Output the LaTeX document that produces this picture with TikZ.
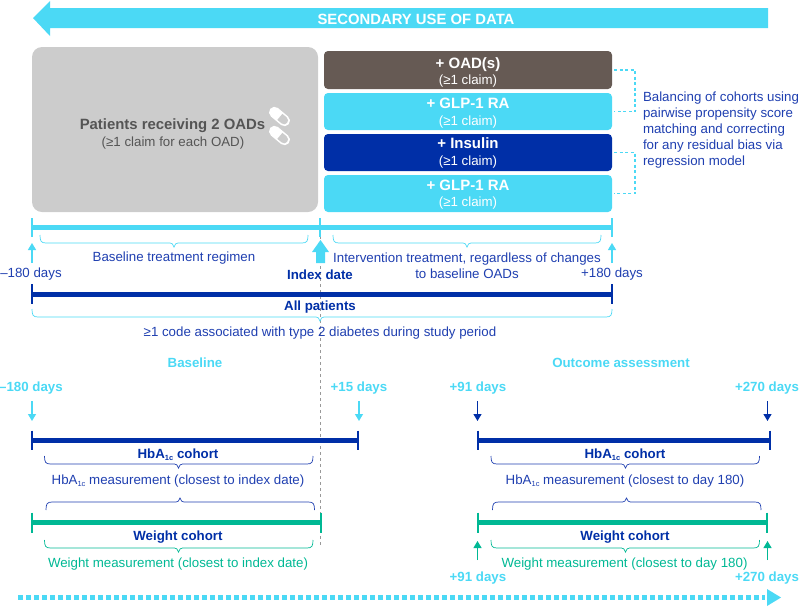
\documentclass[tikz,border=0pt]{standalone}
\usepackage{fontspec}
\setmainfont{Liberation Sans}
\usetikzlibrary{arrows.meta}
\definecolor{cy}{HTML}{4BD9F5}
\definecolor{nv}{HTML}{002FA7}
\definecolor{tb}{HTML}{1F3FB0}
\definecolor{br}{HTML}{665A54}
\definecolor{gb}{HTML}{CCCCCC}
\definecolor{gt}{HTML}{555555}
\definecolor{gn}{HTML}{00B894}
\newcommand{\subc}{\raisebox{-2.5pt}{\fontsize{7.5}{7.5}\selectfont 1c}}
% brace: x1, x2, tip x, end y, direction (+1 down, -1 up), colour
\newcommand{\bracefig}[6]{%
 \draw[#6,line width=.7pt] (#1,#4) .. controls (#1,{#4+#5*6}) and (#1+1,{#4+#5*8}) .. ({#1+6},{#4+#5*8})
   -- ({#3-4},{#4+#5*8}) .. controls ({#3-2},{#4+#5*8}) and ({#3-1},{#4+#5*9}) .. (#3,{#4+#5*12})
   .. controls ({#3+1},{#4+#5*9}) and ({#3+2},{#4+#5*8}) .. ({#3+4},{#4+#5*8})
   -- ({#2-6},{#4+#5*8}) .. controls ({#2-1},{#4+#5*8}) and (#2,{#4+#5*6}) .. (#2,#4);}
\tikzset{
 every node/.style={inner sep=0pt,outer sep=0pt,font=\fontsize{13.3}{16}\selectfont},
 txt/.style={text=tb,align=center},
 bold/.style={text=nv,font=\fontsize{13.3}{16}\selectfont\bfseries,align=center},
 cybold/.style={text=cy,font=\fontsize{13.3}{16}\selectfont\bfseries},
 treat/.style={rounded corners=4pt,minimum width=288pt,anchor=north west},
 treatlab/.style={text=white,align=center},
 bar/.style={line width=5pt},
 tick/.style={line width=2pt},
 thin arrow/.style={line width=1.2pt,-{Triangle[width=8pt,length=7pt]}},
 bracket/.style={cy,line width=1.4pt,dash pattern=on 3pt off 2.5pt},
}
\newcommand{\treatlabel}[1]{{\fontsize{15}{16}\selectfont\bfseries #1}\\[0.3pt]{\fontsize{13.3}{14}\selectfont (≥1 claim)}}
\begin{document}
\begin{tikzpicture}[x=1pt,y=-1pt]
\useasboundingbox (0,0) rectangle (799,606);
% top arrow
\fill[cy] (768,8) -- (50,8) -- (50,1) -- (33,18) -- (50,36) -- (50,28) -- (768,28) -- cycle;
\node[text=white,font=\fontsize{14.85}{16}\selectfont\bfseries] (title) at (416,19) {SECONDARY USE OF DATA};
% grey box
\node[fill=gb,rounded corners=10pt,minimum width=286pt,minimum height=165pt,anchor=north west] (gbox) at (32,47) {};
\node[text=gt,font=\fontsize{14.9}{16}\selectfont\bfseries] (pat) at (172.5,125.5) {Patients receiving 2 OADs};
\node[text=gt] (patb) at (173,143) {(≥1 claim for each OAD)};
% pills
\foreach \cy in {116.5,135.5}{
 \begin{scope}[shift={(279.5,\cy)},rotate=-40]
  \fill[white,rounded corners=5.4pt] (-12,-5.5) rectangle (12,5.5);
  \fill[gb] (0.5,-3.9) -- (6,-3.9) .. controls (11.2,-3.9) and (11.2,3.9) .. (6,3.9) -- (0.5,3.9) -- cycle;
 \end{scope}}
% treatment boxes
\node[treat,fill=br,minimum height=38pt] (b1) at (324,51) {};
\node[treat,fill=cy,minimum height=37pt] (b2) at (324,93) {};
\node[treat,fill=nv,minimum height=37pt] (b3) at (324,134) {};
\node[treat,fill=cy,minimum height=37pt] (b4) at (324,175) {};
\node[treatlab] (t1l) at (468,72.5) {\treatlabel{+ OAD(s)}};
\node[treatlab] (t2l) at (468,113) {\treatlabel{+ GLP-1 RA}};
\node[treatlab] (t3l) at (468,153) {\treatlabel{+ Insulin}};
\node[treatlab] (t4l) at (468,194.5) {\treatlabel{+ GLP-1 RA}};
\draw[bracket] ([xshift=2pt]b1.east) -- ++(21,0) |- ([xshift=2pt]b2.east);
\draw[bracket] ([xshift=2pt]b3.east) -- ++(21,0) |- ([xshift=2pt]b4.east);
\node[txt,align=left,anchor=west] (bal) at (643,130) {Balancing of cohorts using\\pairwise propensity score\\matching and correcting\\for any residual bias via\\regression model};
% index date line
\coordinate (it) at (320,236); \coordinate (ib) at (320,547);
\draw[gray!80,line width=1pt,dash pattern=on 3pt off 3pt] (it) -- (ib);
% treatment timeline
\coordinate (t1) at (32,227.5); \coordinate (t2) at (320,227.5); \coordinate (t3) at (612,227.5);
\draw[cy,bar] (t1) -- (t3);
\foreach \p in {t1,t2,t3} \draw[cy,tick] ([yshift=9.5pt]\p) -- ([yshift=-9.5pt]\p);
\bracefig{40}{308}{174}{235}{1}{cy}
\bracefig{333}{601}{467}{235}{1}{cy}
\node[txt] (bt) at (174,258) {Baseline treatment regimen};
\node[txt] (it1) at (467,266) {Intervention treatment, regardless of changes\\to baseline OADs};
\node[txt] (m180) at (31,274.5) {–180 days};
\node[txt] (p180) at (612,274.5) {+180 days};
\node[bold] (idx) at (320,274.5) {Index date};
\coordinate (a1) at (32,263); \coordinate (a1e) at (32,243);
\coordinate (a2) at (612,263); \coordinate (a2e) at (612,243);
\draw[cy,thin arrow] (a1) -- (a1e);
\draw[cy,thin arrow] (a2) -- (a2e);
\fill[cy] (316,263) -- (316,252) -- (312,252) -- (320.5,240) -- (329,252) -- (325,252) -- (325,263) -- cycle;
% all patients
\coordinate (p1) at (32,294); \coordinate (p2) at (612,294);
\draw[nv,bar] (p1) -- (p2);
\foreach \p in {p1,p2} \draw[nv,tick] ([yshift=10pt]\p) -- ([yshift=-10pt]\p);
\node[bold] (all) at (320,307.5) {All patients};
\bracefig{32}{612}{320}{309}{1}{cy}
\node[txt] (code) at (320,333.5) {≥1 code associated with type 2 diabetes during study period};
% headers
\node[cybold] (hb) at (195,363) {Baseline};
\node[cybold] (ho) at (621,363) {Outcome assessment};
\node[cybold] (l1) at (31,388.5) {–180 days};
\node[cybold] (l2) at (359,388.5) {+15 days};
\node[cybold] (l3) at (478,388.5) {+91 days};
\node[cybold] (l4) at (767,388.5) {+270 days};
\node[cybold] (l5) at (478,578.5) {+91 days};
\node[cybold] (l6) at (767,578.5) {+270 days};
% arrows
\coordinate (d1) at (32,401); \coordinate (d1e) at (32,421);
\coordinate (d2) at (359,401); \coordinate (d2e) at (359,421);
\coordinate (d3) at (477.5,401); \coordinate (d3e) at (477.5,421);
\coordinate (d4) at (767.5,401); \coordinate (d4e) at (767.5,421);
\coordinate (d5) at (477.5,560); \coordinate (d5e) at (477.5,541);
\coordinate (d6) at (767.5,560); \coordinate (d6e) at (767.5,541);
\draw[cy,thin arrow] (d1) -- (d1e);
\draw[cy,thin arrow] (d2) -- (d2e);
\draw[nv,thin arrow] (d3) -- (d3e);
\draw[nv,thin arrow] (d4) -- (d4e);
\draw[gn,thin arrow] (d5) -- (d5e);
\draw[gn,thin arrow] (d6) -- (d6e);
% cohort lines
\coordinate (h1) at (32,440); \coordinate (h2) at (358,440);
\coordinate (h3) at (478,440); \coordinate (h4) at (769.5,440);
\coordinate (w1) at (32,522.5); \coordinate (w2) at (320.5,522.5);
\coordinate (w3) at (478,522.5); \coordinate (w4) at (767,522.5);
\draw[nv,bar] (h1) -- (h2);
\draw[nv,bar] (h3) -- (h4);
\draw[gn,bar] (w1) -- (w2);
\draw[gn,bar] (w3) -- (w4);
\foreach \p in {h1,h2,h3,h4} \draw[nv,tick] ([yshift=9.5pt]\p) -- ([yshift=-9.5pt]\p);
\foreach \p in {w1,w2,w3,w4} \draw[gn,tick] ([yshift=10pt]\p) -- ([yshift=-10pt]\p);
% left texts
\node[bold] (c1) at (178,454.5) {HbA\subc{} cohort};
\bracefig{44.5}{313}{178.5}{456}{1}{tb}
\node[txt] (m1) at (178,481) {HbA\subc{} measurement (closest to index date)};
\bracefig{46}{314.5}{180}{510}{-1}{tb}
\node[bold] (c2) at (178,537.5) {Weight cohort};
\bracefig{44.5}{313}{178.5}{540}{1}{gn}
\node[text=gn] (m2) at (178,564) {Weight measurement (closest to index date)};
% right texts
\node[bold] (c3) at (625,454.5) {HbA\subc{} cohort};
\bracefig{491}{759.5}{625.5}{456}{1}{tb}
\node[txt] (m3) at (625,481) {HbA\subc{} measurement (closest to day 180)};
\bracefig{492.5}{761}{626.5}{510}{-1}{tb}
\node[bold] (c4) at (625,537.5) {Weight cohort};
\bracefig{491}{759.5}{625.5}{540}{1}{gn}
\node[text=gn] (m4) at (624.5,564) {Weight measurement (closest to day 180)};
% bottom arrow
\coordinate (s) at (18,597); \coordinate (e) at (765,597);
\draw[cy,line width=5pt,dash pattern=on 5pt off 3pt] (s) -- (e);
\fill[cy] (767,589) -- (781,597.5) -- (767,606) -- cycle;
\end{tikzpicture}
\end{document}
